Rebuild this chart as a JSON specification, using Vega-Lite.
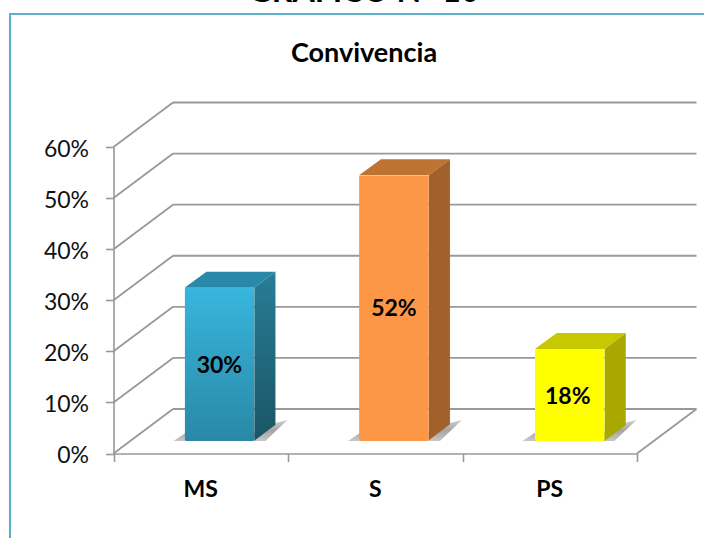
{
"$schema":"https://vega.github.io/schema/vega-lite/v6.json",
"autosize":{"type":"none"},
"padding":{"left":10,"top":14,"right":-14,"bottom":-6},
"width":708,"height":530,
"background":"white",
"view":{"stroke":"#5AB1C9","strokeWidth":2,"fill":"white"},
"title":{"text":"GRÁFICO N° 10","subtitle":"Convivencia","anchor":"middle","frame":"group","offset":-54,"font":"Lato","fontWeight":"bold","fontSize":32,"color":"black","subtitleFont":"Lato","subtitleFontWeight":"bold","subtitleFontSize":27,"subtitleColor":"black","subtitlePadding":32},
"datasets":{
"bars":[{"cat":"MS","value":0.30},{"cat":"S","value":0.52},{"cat":"PS","value":0.18}],
"grid":[{"pct":0},{"pct":0.1},{"pct":0.2},{"pct":0.3},{"pct":0.4},{"pct":0.5},{"pct":0.6}]
},
"resolve":{"scale":{"x":"independent","y":"independent"},"axis":{"x":"independent","y":"independent"}},
"layer":[
{"data":{"name":"grid"},
 "encoding":{
  "y":{"field":"pct","type":"quantitative","scale":{"domain":[0,0.6],"range":[439.5,133]},
   "axis":{"orient":"left","offset":-103.5,"format":".0%","values":[0,0.1,0.2,0.3,0.4,0.5,0.6],"title":null,"grid":false,"domainColor":"#999999","domainWidth":1.6,"tickColor":"#999999","tickWidth":1.6,"tickSize":8,"labelFont":"Lato","labelFontSize":23,"labelColor":"#111111","labelPadding":17,"labelOffset":2}},
  "x":{"datum":0,"type":"quantitative","scale":{"domain":[0,3],"range":[103.5,627]},
   "axis":{"orient":"bottom","offset":-90.5,"values":[0,1,2,3],"title":null,"labels":false,"grid":false,"domainColor":"#999999","domainWidth":1.6,"tickColor":"#999999","tickWidth":1.6,"tickSize":8}}
 },
 "layer":[
  {"mark":{"type":"rule","color":"#999999","strokeWidth":1.8,"xOffset":59.5,"x2Offset":59.5,"yOffset":-44.5},
   "encoding":{"x2":{"datum":3}}},
  {"mark":{"type":"rule","color":"#999999","strokeWidth":1.8,"x2Offset":59.5,"y2Offset":-44.5},
   "encoding":{"x2":{"datum":0},"y2":{"field":"pct"}}},
  {"transform":[{"filter":"datum.pct==0"}],"mark":{"type":"rule","color":"#999999","strokeWidth":1.8,"x2Offset":59.5,"y2Offset":-44.5},
   "encoding":{"x":{"datum":3,"type":"quantitative"},"x2":{"datum":3},"y2":{"field":"pct"}}}
 ]},
{"data":{"name":"bars"},
 "encoding":{
  "x":{"field":"cat","type":"nominal","sort":["MS","S","PS"],"scale":{"type":"band","domain":["MS","S","PS"],"range":[103.5,627],"paddingInner":0.6,"paddingOuter":0.3},
   "axis":{"orient":"bottom","offset":-90.5,"title":null,"labelAngle":0,"ticks":false,"domain":false,"grid":false,"labelFont":"Lato","labelFontWeight":"bold","labelFontSize":23,"labelColor":"black","labelPadding":25}},
  "y":{"field":"value","type":"quantitative","scale":{"domain":[0,0.6],"range":[427,120.5]},"axis":null}
 },
 "layer":[
  {"mark":{"type":"point","filled":true,"size":4,"strokeWidth":0,"opacity":1,"xOffset":18.7,"shape":"M-46,0 L-34,-8 L34,-8 L56,-18 L68,-21 L46,0 Z","fill":{"gradient":"linear","x1":0,"y1":0,"x2":0,"y2":1,"stops":[{"offset":0,"color":"#d0d0d0"},{"offset":0.5,"color":"#a5a5a5"},{"offset":1,"color":"#c8c8c8"}]}},
   "encoding":{"y":{"datum":0,"type":"quantitative"}}},

  {"transform":[{"filter":"datum.cat=='MS'"}],"mark":{"type":"point","filled":true,"size":4,"strokeWidth":0,"opacity":1,"xOffset":18.7,"shape":"M-34.9,0 L-13,-16 L56,-16 L34.9,0 Z","fill":"#2A88A8"}},
  {"transform":[{"filter":"datum.cat=='MS'"}],"mark":{"type":"point","filled":true,"size":4,"strokeWidth":0,"opacity":1,"xOffset":18.7,"shape":"M34.9,0 L56,-16 L56,137 L34.9,153 Z","fill":{"gradient":"linear","x1":0,"y1":0,"x2":0,"y2":1,"stops":[{"offset":0,"color":"#287D97"},{"offset":1,"color":"#1B5566"}]}}},
  {"transform":[{"filter":"datum.cat=='MS'"}],"mark":{"type":"bar","cornerRadius":2,"xOffset":18.7,"fill":{"gradient":"linear","x1":0,"y1":0,"x2":0,"y2":1,"stops":[{"offset":0,"color":"#37B6DE"},{"offset":1,"color":"#2A88A6"}]}}},
  {"transform":[{"filter":"datum.cat=='MS'"}],"mark":{"type":"text","font":"Lato","fontWeight":"bold","fontSize":23,"color":"black","xOffset":18.7,"yOffset":78},"encoding":{"text":{"field":"value","type":"quantitative","format":".0%"}}},

  {"transform":[{"filter":"datum.cat=='S'"}],"mark":{"type":"point","filled":true,"size":4,"strokeWidth":0,"opacity":1,"xOffset":18.7,"shape":"M-34.9,0 L-13,-16 L56,-16 L34.9,0 Z","fill":"#BD7433"}},
  {"transform":[{"filter":"datum.cat=='S'"}],"mark":{"type":"point","filled":true,"size":4,"strokeWidth":0,"opacity":1,"xOffset":18.7,"shape":"M34.9,0 L56,-16 L56,249 L34.9,265 Z","fill":"#A2602A"}},
  {"transform":[{"filter":"datum.cat=='S'"}],"mark":{"type":"bar","cornerRadius":2,"xOffset":18.7,"fill":"#FB9747"}},
  {"transform":[{"filter":"datum.cat=='S'"}],"mark":{"type":"text","font":"Lato","fontWeight":"bold","fontSize":23,"color":"black","xOffset":18.7,"yOffset":134},"encoding":{"text":{"field":"value","type":"quantitative","format":".0%"}}},

  {"transform":[{"filter":"datum.cat=='PS'"}],"mark":{"type":"point","filled":true,"size":4,"strokeWidth":0,"opacity":1,"xOffset":20,"shape":"M-34.9,0 L-13,-16 L56,-16 L34.9,0 Z","fill":"#C8C800"}},
  {"transform":[{"filter":"datum.cat=='PS'"}],"mark":{"type":"point","filled":true,"size":4,"strokeWidth":0,"opacity":1,"xOffset":20,"shape":"M34.9,0 L56,-16 L56,76 L34.9,92 Z","fill":"#A8A800"}},
  {"transform":[{"filter":"datum.cat=='PS'"}],"mark":{"type":"bar","cornerRadius":2,"xOffset":20,"fill":"#FFFF00"}},
  {"transform":[{"filter":"datum.cat=='PS'"}],"mark":{"type":"text","font":"Lato","fontWeight":"bold","fontSize":23,"color":"black","xOffset":18,"yOffset":47.5},"encoding":{"text":{"field":"value","type":"quantitative","format":".0%"}}}
 ]}
]
}
